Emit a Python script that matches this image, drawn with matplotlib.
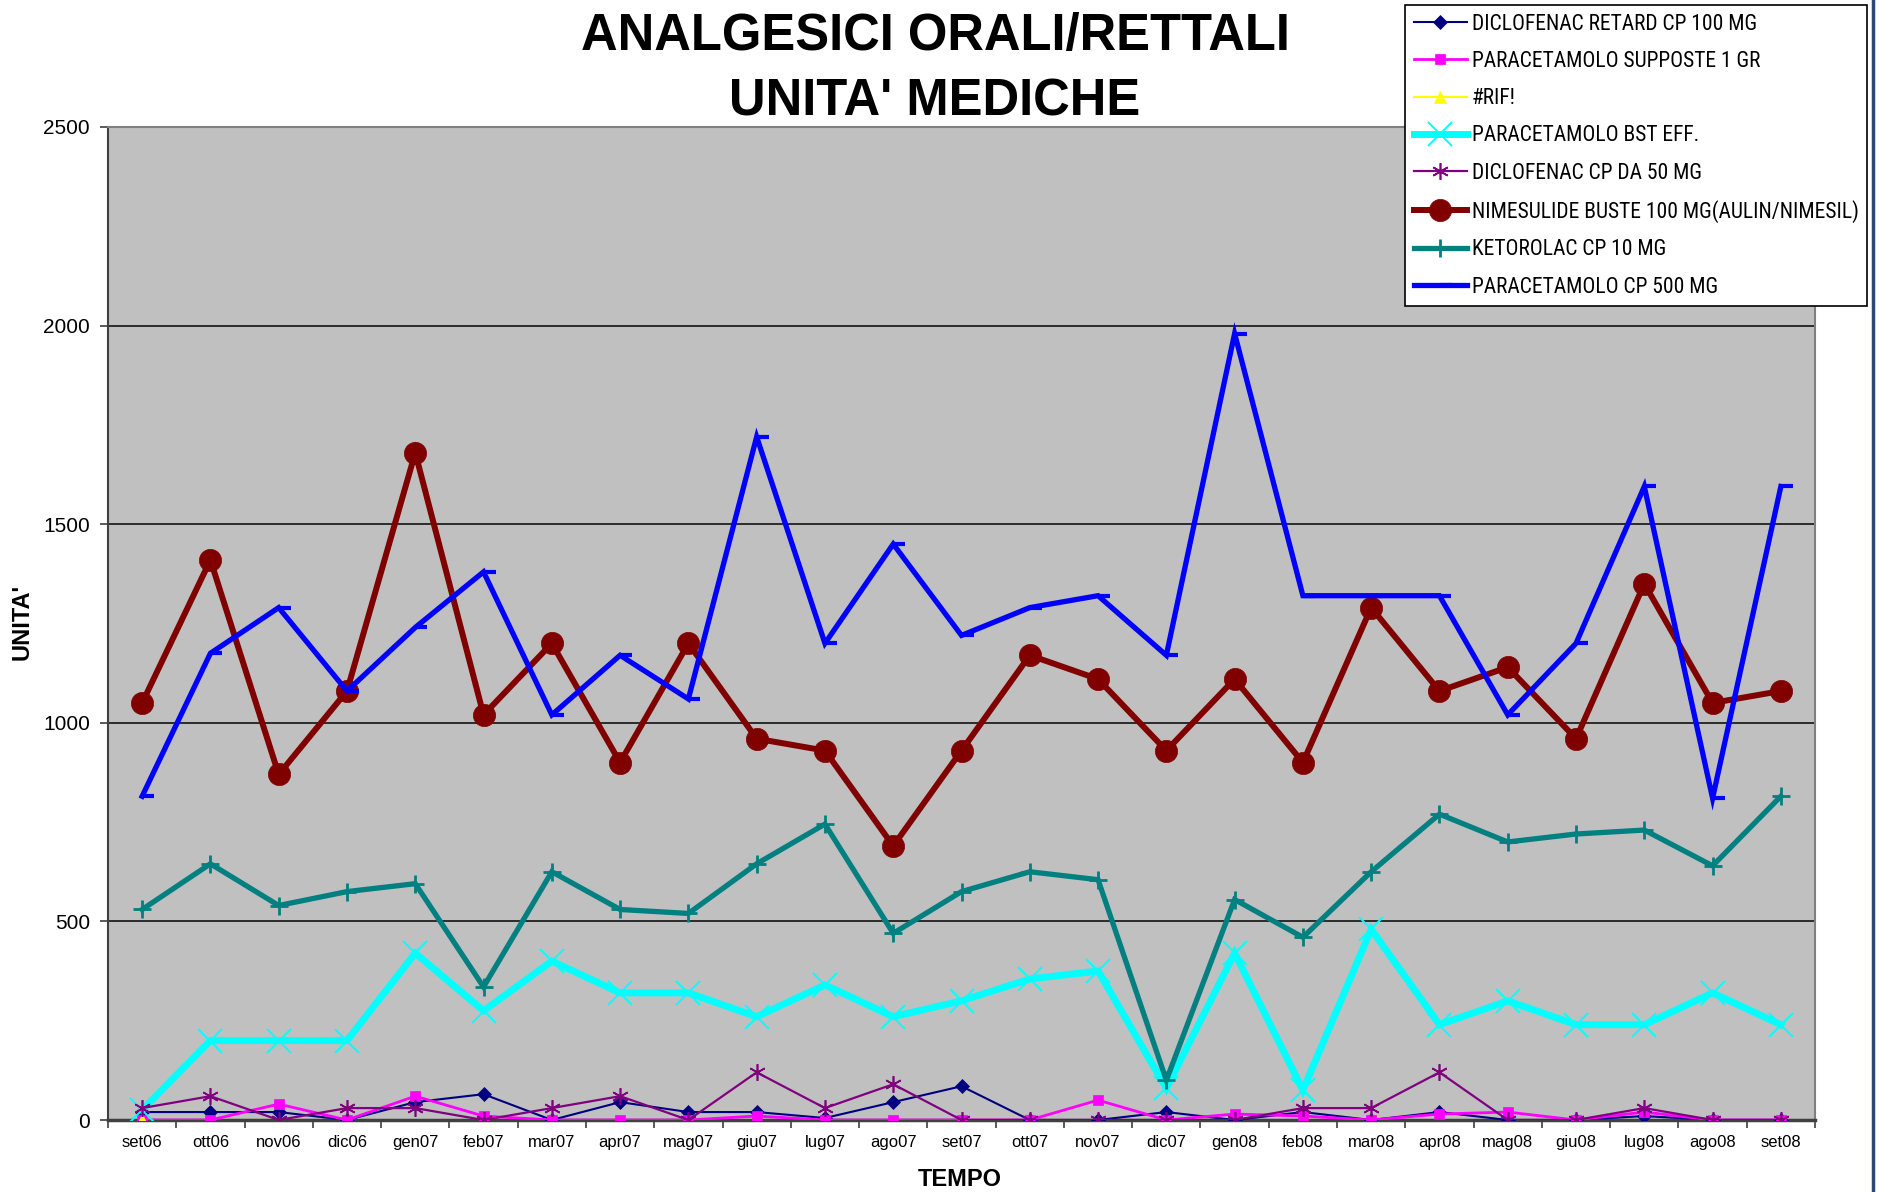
import matplotlib
matplotlib.use("Agg")
import matplotlib.pyplot as plt
import numpy as np
from matplotlib.path import Path
from matplotlib.lines import Line2D
from matplotlib import font_manager

months = ["set06", "ott06", "nov06", "dic06", "gen07", "feb07", "mar07", "apr07",
          "mag07", "giu07", "lug07", "ago07", "set07", "ott07", "nov07", "dic07",
          "gen08", "feb08", "mar08", "apr08", "mag08", "giu08", "lug08", "ago08", "set08"]

diclofenac_retard = [20, 20, 20, 0, 45, 65, 0, 45, 20, 20, 5, 45, 85,
                     0, 0, 20, 0, 20, 0, 20, 0, 0, 10, 0, 0]
paracetamolo_supposte = [0, 0, 40, 0, 60, 10, 0, 0, 0, 10, 0, 0, 0,
                         0, 50, 0, 15, 10, 0, 15, 20, 0, 20, 0, 0]
rif = [0] + [np.nan] * 24
paracetamolo_bst = [25, 200, 200, 200, 420, 275, 400, 320, 320, 260, 340, 260, 300,
                    355, 375, 80, 420, 75, 480, 240, 300, 240, 240, 320, 240]
diclofenac_50 = [30, 60, 0, 30, 30, 0, 30, 60, 0, 120, 30, 90, 0,
                 0, 0, 0, 0, 30, 30, 120, 0, 0, 30, 0, 0]
nimesulide = [1050, 1410, 870, 1080, 1680, 1020, 1200, 900, 1200, 960, 930, 690, 930,
              1170, 1110, 930, 1110, 900, 1290, 1080, 1140, 960, 1350, 1050, 1080]
ketorolac = [530, 645, 540, 575, 595, 335, 625, 530, 520, 645, 745, 470, 575,
             625, 605, 100, 555, 460, 625, 770, 700, 720, 730, 640, 815]
paracetamolo_cp500 = [815, 1175, 1290, 1080, 1240, 1380, 1020, 1170, 1060, 1720, 1200, 1450, 1220,
                      1290, 1320, 1170, 1980, 1320, 1320, 1320, 1020, 1200, 1595, 810, 1595]

labels = ["DICLOFENAC RETARD CP 100 MG", "PARACETAMOLO SUPPOSTE 1 GR", "#RIF!",
          "PARACETAMOLO BST EFF.", "DICLOFENAC CP DA 50 MG",
          "NIMESULIDE BUSTE 100 MG(AULIN/NIMESIL)", "KETOROLAC CP 10 MG",
          "PARACETAMOLO CP 500 MG"]
yticks = [0, 500, 1000, 1500, 2000, 2500]

# pick a narrow font for the legend if one is installed
names = {f.name for f in font_manager.fontManager.ttflist}
legend_family = "Liberation Sans"
for cand in ["Liberation Sans Narrow", "Arial Narrow", "Roboto Condensed",
             "Open Sans Condensed", "DejaVu Sans Condensed"]:
    if cand in names:
        legend_family = cand
        break

plt.rcParams['font.family'] = ['Liberation Sans', 'DejaVu Sans']

W, H = 1877, 1192
fig = plt.figure(figsize=(W / 100, H / 100), dpi=100)
fig.patch.set_facecolor("white")
L, R, T, B = 108, 1815, 127, 1120
ax = fig.add_axes([L / W, 1 - B / H, (R - L) / W, (B - T) / H])
ax.set_facecolor("#C0C0C0")

x = np.arange(len(months))
dash = Path([(0, 0), (1, 0)], [Path.MOVETO, Path.LINETO])

series = [
    dict(y=diclofenac_retard, color="#000080", lw=1.5, marker="D", ms=7, mew=0.5),
    dict(y=paracetamolo_supposte, color="#FF00FF", lw=2.0, marker="s", ms=7.5, mew=0.5),
    dict(y=rif, color="#FFFF00", lw=1.5, marker="^", ms=9, mew=0.5),
    dict(y=paracetamolo_bst, color="#00FFFF", lw=5.0, marker="x", ms=17, mew=1.4),
    dict(y=diclofenac_50, color="#800080", lw=1.6, marker=(6, 2, 0), ms=12, mew=1.2),
    dict(y=nimesulide, color="#800000", lw=4.3, marker="o", ms=16, mew=0.5),
    dict(y=ketorolac, color="#008080", lw=3.8, marker="+", ms=13, mew=2.0),
    dict(y=paracetamolo_cp500, color="#0000FF", lw=3.8, marker=dash, ms=17, mew=3.0),
]
handles = []
for i, (s, lab) in enumerate(zip(series, labels)):
    h, = ax.plot(x, s["y"], color=s["color"], lw=s["lw"], marker=s["marker"],
                 ms=s["ms"], mew=s["mew"], mec=s["color"], mfc=s["color"],
                 label=lab, zorder=3 + i, solid_joinstyle="miter")
    handles.append(h)

ax.set_xlim(-0.5, 24.5)
ax.set_ylim(0, 2500)
ax.set_yticks(yticks)
ax.set_yticklabels([str(v) for v in yticks], fontsize=15)
ax.yaxis.grid(True, color="#2b2b2b", lw=1.4, zorder=1)
ax.set_axisbelow(True)
ax.tick_params(axis="y", direction="out", length=6, width=1.2, color="#404040", pad=7)

ax.set_xticks(x)
ax.set_xticklabels(months, fontsize=12)
ax.set_xticks(np.arange(-0.5, 25, 1), minor=True)
ax.tick_params(axis="x", which="major", length=0, pad=11)
ax.tick_params(axis="x", which="minor", direction="out", length=6, width=1.2, color="#404040")

for side in ["top", "right"]:
    ax.spines[side].set_color("#808080")
    ax.spines[side].set_linewidth(1.5)
ax.spines["left"].set_color("#404040")
ax.spines["left"].set_linewidth(1.5)
ax.spines["bottom"].set_color("#404040")
ax.spines["bottom"].set_linewidth(2.5)

fig.text(935 / W, 1 - 50 / H, "ANALGESICI ORALI/RETTALI", ha="center", va="baseline",
         fontsize=36.5, fontweight="bold")
fig.text(935 / W, 1 - 115 / H, "UNITA' MEDICHE", ha="center", va="baseline",
         fontsize=36.5, fontweight="bold")
fig.text(960 / W, 1 - 1186 / H, "TEMPO", ha="center", va="baseline",
         fontsize=17, fontweight="bold")
fig.text(22 / W, 1 - 622 / H, "UNITA'", ha="center", va="center", rotation=90,
         fontsize=17, fontweight="bold")

# legend: size the font so the longest label spans ~396 px as in the reference
renderer = fig.canvas.get_renderer()
probe = fig.text(0, 0, labels[5], fontsize=15.5, family=[legend_family, "DejaVu Sans"])
wpx = probe.get_window_extent(renderer).width
probe.remove()
fs_pt = min(15.5, 15.5 * 396.0 / wpx)
fs_px = fs_pt * 100 / 72.0
row_h = 1.17 * fs_px
leg = ax.legend(handles=handles, loc="upper right",
                bbox_to_anchor=(1867 / W, 1 - 5 / H), bbox_transform=fig.transFigure,
                borderaxespad=0, fancybox=False, shadow=False, framealpha=1,
                edgecolor="black", facecolor="white",
                prop={"family": [legend_family, "DejaVu Sans"], "size": fs_pt},
                handlelength=53 / fs_px, handletextpad=5 / fs_px,
                labelspacing=(37 - row_h + 4.5) / fs_px,
                borderpad=8.5 / fs_px, numpoints=1)
leg.get_frame().set_linewidth(1.2)
leg.set_zorder(20)

fig.add_artist(Line2D([1873 / W, 1873 / W], [0, 1], transform=fig.transFigure,
                      color="#2a4a7a", lw=2.5))

fig.savefig("out.png", dpi=100, facecolor="white")
